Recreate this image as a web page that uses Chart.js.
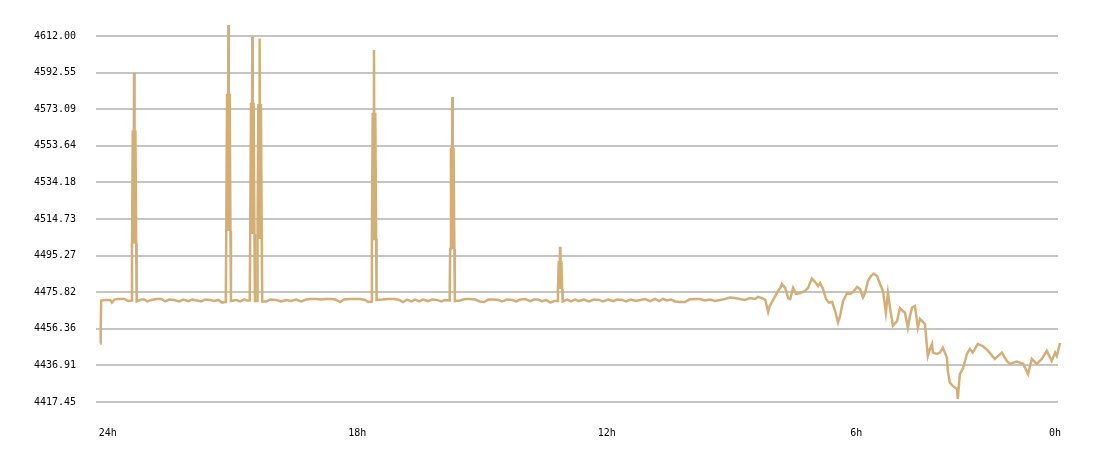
<!DOCTYPE html>
<html>
<head>
<meta charset="utf-8">
<script src="https://cdn.jsdelivr.net/npm/chart.js@4/dist/chart.umd.min.js"></script>
<style>
  body { margin: 0; background: #fff; }
</style>
</head>
<body>
<canvas id="priceChart" width="1100" height="458"></canvas>
<script>
// hours before now (left = 24h)
const hoursAgo = [
  24.18, 24.17, 24.16, 24.04, 23.94, 23.90, 23.84, 23.75, 23.60, 23.51,
  23.430, 23.418, 23.399, 23.380, 23.368, 23.356, 23.336, 23.317, 23.305,
  23.19, 23.12, 23.05,
  22.95, 22.83, 22.71, 22.62, 22.52, 22.40, 22.28, 22.19, 22.06, 21.97,
  21.85, 21.75, 21.66, 21.54, 21.44, 21.34, 21.25,
  21.163, 21.151, 21.132, 21.113, 21.101, 21.089, 21.069, 21.050, 21.038,
  20.91, 20.82, 20.72, 20.65,
  20.587, 20.575, 20.556, 20.537, 20.525, 20.513, 20.493, 20.474, 20.462,
  20.411, 20.399, 20.380, 20.361, 20.349, 20.337, 20.317, 20.298, 20.286,
  20.19, 20.09, 19.95, 19.83, 19.71, 19.59, 19.47, 19.35, 19.23, 19.11,
  18.99, 18.87, 18.75, 18.63, 18.53, 18.41, 18.32, 18.17, 18.05, 17.93,
  17.81, 17.74,
  17.661, 17.649, 17.630, 17.611, 17.599, 17.587, 17.567, 17.548, 17.536,
  17.40, 17.26, 17.11, 16.99, 16.90, 16.80, 16.70, 16.61, 16.51, 16.42,
  16.30, 16.20, 16.08, 15.98, 15.89,
  15.779, 15.767, 15.748, 15.729, 15.717, 15.705, 15.685, 15.666, 15.654,
  15.53, 15.41, 15.29, 15.17, 15.05, 14.95, 14.85, 14.73, 14.61, 14.52,
  14.40, 14.28, 14.18, 14.08, 13.96, 13.84, 13.75, 13.65, 13.56, 13.46,
  13.36, 13.27,
  13.187, 13.175, 13.156, 13.137, 13.125, 13.113, 13.093, 13.074, 13.062,
  12.95, 12.86, 12.76, 12.67, 12.55, 12.43, 12.31, 12.19, 12.09, 11.97,
  11.85, 11.75, 11.63, 11.54, 11.42, 11.30, 11.20, 11.08, 10.96, 10.84,
  10.74, 10.65, 10.55, 10.45, 10.36, 10.24, 10.12, 10.02, 9.88, 9.76,
  9.64, 9.52, 9.40, 9.28, 9.16, 9.04, 8.92, 8.80,
  8.68, 8.56, 8.44, 8.36, 8.27, 8.19, 8.12, 8.08, 8.00, 7.91,
  7.83, 7.79, 7.71, 7.64, 7.59, 7.52, 7.45, 7.35, 7.23, 7.16,
  7.07, 6.99, 6.92, 6.87, 6.80, 6.73, 6.66, 6.58, 6.51, 6.44,
  6.39, 6.32, 6.22, 6.15, 6.08, 5.98, 5.91, 5.84, 5.79, 5.72,
  5.65, 5.58, 5.50, 5.43, 5.36, 5.29, 5.24, 5.19, 5.12, 5.02,
  4.95, 4.88, 4.83, 4.76, 4.71, 4.66, 4.59, 4.52, 4.47, 4.42,
  4.35, 4.28, 4.23, 4.18, 4.16, 4.06, 3.99, 3.92, 3.82, 3.80,
  3.75, 3.68, 3.58, 3.56, 3.51, 3.44, 3.34, 3.27, 3.20, 3.08,
  2.96, 2.83, 2.67, 2.50, 2.38, 2.31, 2.14, 1.99, 1.87, 1.78,
  1.66, 1.54, 1.42, 1.30, 1.22, 1.18, 1.10
];

const prices = [
  4448.6, 4454.3, 4471.4, 4471.7, 4471.7, 4470.3, 4471.9, 4472.2, 4472.2, 4471.1,
  4471.4, 4501.6, 4561.9, 4501.6, 4592.5, 4501.6, 4561.9, 4501.6, 4470.9,
  4471.9, 4471.9, 4470.9,
  4471.7, 4472.2, 4472.2, 4470.9, 4471.9, 4471.7, 4470.9, 4471.9, 4471.1, 4471.9,
  4471.4, 4470.9, 4471.9, 4471.7, 4471.1, 4471.7, 4470.3,
  4470.6, 4508.4, 4581.3, 4508.4, 4617.8, 4508.4, 4581.3, 4508.4, 4471.1,
  4471.7, 4470.9, 4471.9, 4471.4,
  4471.4, 4506.8, 4576.5, 4506.8, 4611.6, 4506.8, 4576.5, 4506.8, 4471.1,
  4471.1, 4504.8, 4575.9, 4504.8, 4610.6, 4504.8, 4575.9, 4504.8, 4470.9,
  4470.9, 4471.9, 4471.7, 4470.9, 4471.7, 4471.1, 4471.9, 4470.9, 4471.9, 4472.2,
  4472.2, 4471.9, 4472.2, 4472.2, 4471.9, 4470.6, 4471.9, 4472.2, 4472.2, 4472.2,
  4471.7, 4470.6,
  4470.9, 4504.1, 4571.2, 4504.1, 4604.6, 4504.1, 4571.2, 4504.1, 4471.7,
  4471.9, 4472.2, 4472.2, 4471.7, 4470.6, 4471.9, 4470.9, 4471.9, 4470.9, 4471.9,
  4471.1, 4471.9, 4471.7, 4470.9, 4471.7,
  4471.4, 4498.8, 4552.6, 4498.8, 4579.6, 4498.8, 4552.6, 4498.8, 4471.1,
  4471.4, 4472.2, 4472.2, 4471.9, 4470.9, 4470.6, 4471.9, 4471.9, 4471.7, 4470.9,
  4471.9, 4471.7, 4470.9, 4471.9, 4472.2, 4471.1, 4471.9, 4471.9, 4470.9, 4471.7,
  4470.3, 4471.1,
  4471.1, 4477.5, 4492.4, 4477.5, 4500.0, 4477.5, 4492.4, 4477.5, 4470.9,
  4471.9, 4470.9, 4471.9, 4471.1, 4471.9, 4470.9, 4471.9, 4471.7, 4470.9, 4471.9,
  4471.1, 4471.9, 4471.7, 4470.9, 4471.9, 4471.1, 4471.7, 4472.2, 4471.1, 4472.2,
  4471.1, 4472.2, 4471.4, 4471.9, 4470.9, 4470.6, 4470.6, 4471.9, 4472.2, 4472.2,
  4471.4, 4471.9, 4471.1, 4471.7, 4472.2, 4473.0, 4472.7, 4472.2,
  4471.7, 4472.7, 4472.2, 4473.3, 4472.7, 4471.7, 4465.3, 4468.5, 4471.7, 4475.4,
  4478.1, 4480.2, 4478.1, 4472.7, 4472.2, 4478.1, 4474.9, 4475.4, 4476.5, 4478.1,
  4483.1, 4481.2, 4479.1, 4480.7, 4477.5, 4472.2, 4470.3, 4470.6, 4465.8, 4459.7,
  4463.2, 4471.1, 4475.4, 4474.9, 4475.9, 4478.6, 4477.5, 4473.0, 4475.4, 4481.8,
  4484.4, 4485.7, 4484.4, 4480.2, 4476.5, 4465.0, 4475.4, 4467.7, 4457.9, 4460.5,
  4467.4, 4465.8, 4464.9, 4457.0, 4463.2, 4467.6, 4468.5, 4457.0, 4461.6, 4460.5,
  4458.9, 4441.9, 4445.6, 4448.3, 4443.7, 4443.0, 4443.7, 4446.3, 4441.0, 4433.9,
  4427.7, 4426.0, 4424.4, 4419.1, 4432.3, 4435.0, 4443.0, 4445.6, 4443.7, 4448.3,
  4447.2, 4444.6, 4440.3, 4443.7, 4439.3, 4437.7, 4438.9, 4437.8, 4432.3, 4440.3,
  4437.7, 4440.3, 4444.6, 4439.3, 4443.7, 4441.9, 4448.8
];

const yTicks = [4417.45, 4436.91, 4456.36, 4475.82, 4495.27, 4514.73, 4534.18, 4553.64, 4573.09, 4592.55, 4612.00];
const xTickHours = [24, 18, 12, 6, 1.22];
const xTickLabels = ['24h', '18h', '12h', '6h', '0h'];

const tickFont = { family: 'DejaVu Sans Mono', size: 10 };

const ctx = document.getElementById('priceChart').getContext('2d');
const chart = new Chart(ctx, {
  type: 'line',
  data: {
    datasets: [{
      data: hoursAgo.map((h, i) => ({ x: h, y: prices[i] })),
      borderColor: '#d4af75',
      borderWidth: 2.5,
      pointRadius: 0,
      tension: 0,
      fill: false,
      clip: false
    }]
  },
  options: {
    responsive: false,
    animation: false,
    // tick padding is reserved twice by chart.js, so outer padding is small
    layout: { padding: { left: 14, right: 42, top: 15, bottom: -6 } },
    plugins: {
      legend: { display: false },
      tooltip: { enabled: false }
    },
    scales: {
      x: {
        type: 'linear',
        reverse: true,
        min: 1.15,
        max: 24.28,
        grid: { display: false, drawTicks: false },
        border: { display: false },
        afterBuildTicks: axis => { axis.ticks = xTickHours.map(v => ({ value: v })); },
        ticks: {
          autoSkip: false,
          maxRotation: 0,
          padding: 25,
          color: '#000',
          font: tickFont,
          callback: (v, i) => xTickLabels[i]
        }
      },
      y: {
        min: 4417.45,
        max: 4617.3,
        grid: { color: '#c4c4c4', lineWidth: 2, drawTicks: false },
        border: { display: false },
        afterBuildTicks: axis => { axis.ticks = yTicks.map(v => ({ value: v })); },
        ticks: {
          padding: 20,
          color: '#000',
          font: tickFont,
          callback: v => v.toFixed(2)
        }
      }
    }
  }
});
</script>
</body>
</html>
